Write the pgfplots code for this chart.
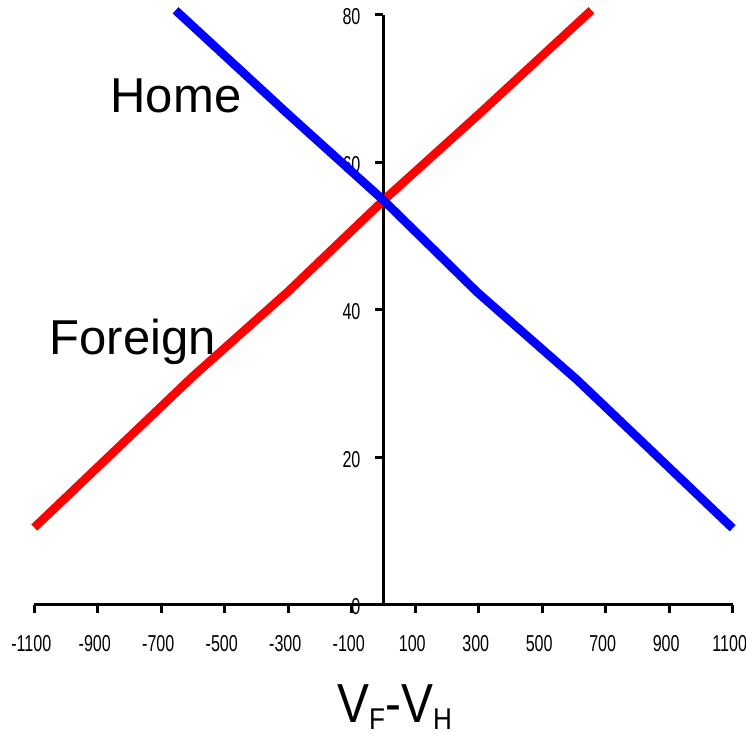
\documentclass[border=0pt]{standalone}
\usepackage{fontspec}
\setmainfont{Liberation Sans}
\usepackage{graphicx}
\usepackage{pgfplots}
\pgfplotsset{compat=1.18}

% narrow tick numbers
\newcommand{\tl}[1]{\scalebox{0.7}[1]{\fontsize{11.5}{12}\selectfont #1}}
\newcommand{\sub}[1]{\raisebox{-3.2pt}{\fontsize{15}{16}\selectfont #1}}

\begin{document}
\begin{tikzpicture}
\begin{axis}[
  name=ax,
  width=349.2pt, height=295.15pt, scale only axis,
  xmin=-1100, xmax=1100, ymin=0, ymax=80,
  axis lines=center,
  axis line style={-, line width=1.5pt, black},
  clip=false,
  xtick={-1100,-900,...,1100},
  xticklabels={\tl{-1100},\tl{-900},\tl{-700},\tl{-500},\tl{-300},\tl{-100},
               \tl{100},\tl{300},\tl{500},\tl{700},\tl{900},\tl{1100}\hspace{4pt}},
  ytick={0,20,...,80},
  yticklabels={\tl{0},\tl{20},\tl{40},\tl{60},\tl{80}},
  hide obscured x ticks=false, hide obscured y ticks=false,
  tick align=outside,
  major tick length=4pt,
  tick style={line width=1.5pt, black},
  xticklabel style={anchor=north, yshift=-7.5pt, xshift=-1.5pt},
  yticklabel style={anchor=east, xshift=-4pt, yshift=-1pt},
]
% Foreign
\addplot[red, line width=4.3pt] coordinates {
  (-1100,10.5) (-600,31.0) (-300,42.5) (0,54.85) (300,66.5) (655,80.6)
};
% Home
\addplot[blue, line width=4.3pt] coordinates {
  (-655,80.6) (-300,66.5) (0,54.85) (295,42.4) (610,30.5) (1100,10.4)
};
\node[anchor=base west, inner sep=0pt, font=\fontsize{24.5}{26}\selectfont] at (axis cs:-861,66.75) {Home};
\node[anchor=base west, inner sep=0pt, font=\fontsize{24.5}{26}\selectfont] at (axis cs:-1053,33.9) {Foreign};
\node[anchor=base, inner sep=0pt] at (axis cs:35,0) [yshift=-58.9pt]
  {\scalebox{0.87}[1]{\fontsize{27.5}{30}\selectfont V\sub{F}-V\sub{H}}};
\end{axis}
\pgfresetboundingbox
\useasboundingbox (-17.15pt,-64pt) rectangle (355.85pt,302.5pt);
\end{tikzpicture}
\end{document}
